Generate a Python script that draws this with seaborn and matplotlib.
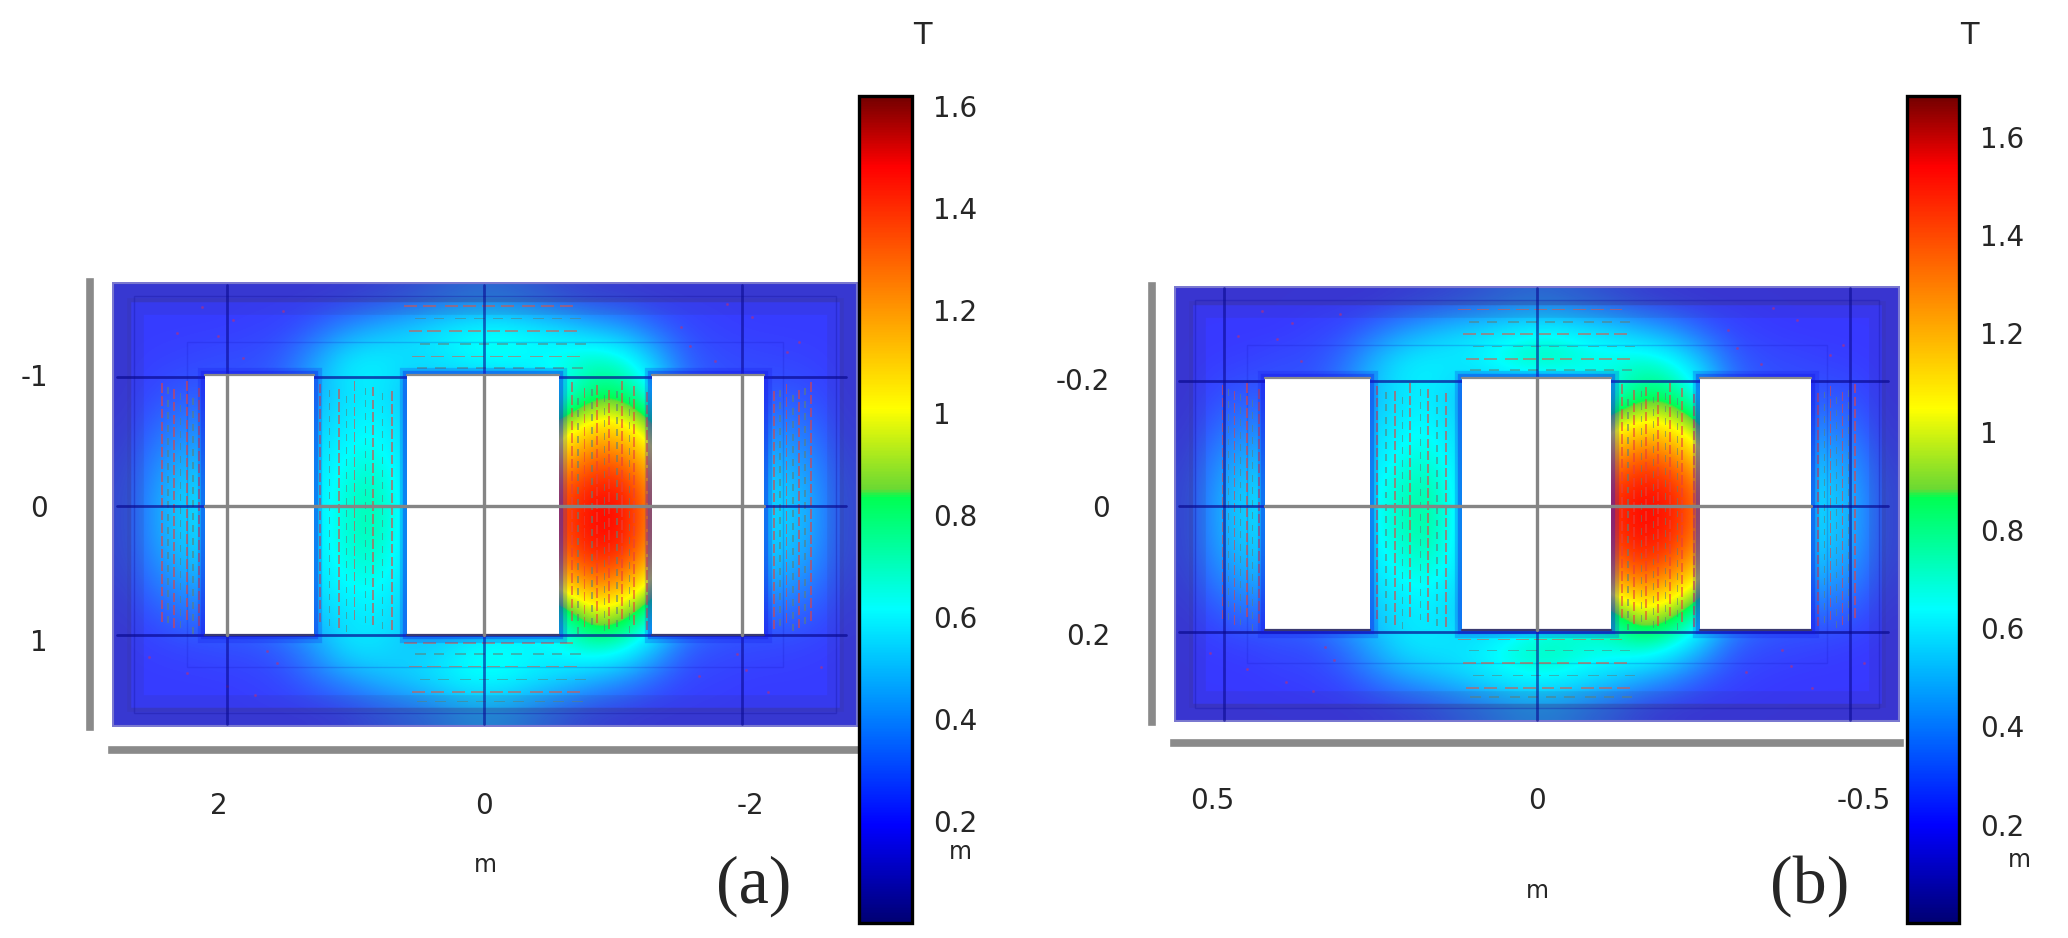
import numpy as np
import seaborn as sns
import matplotlib
matplotlib.use("Agg")
import matplotlib.pyplot as plt
from matplotlib.colors import LinearSegmentedColormap
from matplotlib.patches import Rectangle
from matplotlib.transforms import ScaledTranslation

W, H = 2068, 938

# ---- field values (T), 14 rows x 24 columns ----
field_a = [
 [.20,.20,.20,.20,.20,.20,.20,.21,.23,.26,.30,.34,.34,.30,.25,.22,.21,.20,.20,.20,.20,.20,.20,.20],
 [.20,.20,.20,.20,.21,.22,.28,.38,.46,.52,.58,.62,.64,.60,.56,.48,.42,.30,.23,.21,.20,.20,.20,.20],
 [.20,.21,.22,.24,.24,.28,.42,.58,.60,.55,.56,.62,.64,.62,.65,.72,.68,.50,.28,.24,.23,.22,.21,.20],
 [.20,.24,.27,.25,.25,.30,.44,.55,.58,.48,.45,.40,.40,.50,.60,.78,.78,.58,.32,.25,.24,.26,.24,.20],
 [.21,.30,.36,.36,.38,.46,.50,.58,.62,.52,.50,.50,.60,.80,.90,1.08,1.05,.85,.55,.36,.34,.36,.30,.21],
 [.23,.37,.44,.44,.46,.50,.54,.62,.66,.54,.50,.60,.80,1.02,1.12,1.30,1.26,1.05,.80,.48,.44,.44,.37,.23],
 [.25,.42,.52,.52,.52,.54,.56,.66,.72,.56,.50,.70,1.00,1.22,1.32,1.45,1.43,1.18,.90,.55,.50,.52,.42,.25],
 [.25,.44,.53,.53,.53,.54,.56,.67,.74,.56,.50,.70,1.00,1.25,1.35,1.48,1.46,1.20,.90,.55,.50,.53,.44,.25],
 [.25,.41,.50,.50,.52,.54,.56,.66,.70,.56,.50,.70,1.00,1.20,1.30,1.45,1.41,1.15,.85,.55,.50,.50,.41,.25],
 [.23,.34,.42,.42,.46,.50,.54,.62,.64,.54,.50,.60,.80,1.00,1.08,1.26,1.18,.95,.70,.46,.42,.42,.34,.23],
 [.21,.26,.32,.30,.32,.40,.48,.56,.58,.50,.45,.45,.50,.60,.70,.95,.88,.65,.42,.30,.28,.30,.26,.21],
 [.20,.21,.22,.24,.24,.28,.40,.56,.56,.50,.52,.62,.64,.60,.62,.70,.66,.48,.27,.24,.23,.22,.21,.20],
 [.20,.20,.20,.20,.21,.23,.30,.38,.46,.52,.58,.63,.63,.58,.53,.45,.38,.28,.22,.21,.20,.20,.20,.20],
 [.20,.20,.20,.20,.20,.20,.20,.22,.26,.30,.35,.42,.42,.35,.28,.23,.21,.20,.20,.20,.20,.20,.20,.20],
]
field_b = [
 [.20,.20,.20,.20,.20,.20,.20,.22,.24,.27,.31,.35,.35,.31,.27,.23,.21,.20,.20,.20,.20,.20,.20,.20],
 [.20,.20,.20,.20,.22,.24,.32,.42,.50,.56,.60,.64,.66,.62,.58,.50,.42,.30,.23,.21,.20,.20,.20,.20],
 [.20,.21,.22,.25,.25,.32,.48,.60,.62,.60,.66,.74,.76,.70,.68,.74,.68,.52,.30,.25,.24,.22,.21,.20],
 [.20,.25,.28,.26,.26,.34,.48,.58,.60,.50,.48,.42,.42,.55,.66,.82,.80,.60,.34,.26,.25,.27,.25,.20],
 [.21,.31,.37,.37,.40,.48,.53,.62,.64,.54,.52,.52,.65,.85,1.00,1.12,1.06,.88,.58,.37,.35,.37,.31,.21],
 [.23,.39,.46,.46,.48,.52,.57,.66,.70,.56,.52,.62,.88,1.15,1.25,1.38,1.30,1.10,.82,.50,.46,.46,.39,.23],
 [.25,.44,.54,.54,.54,.56,.60,.72,.76,.58,.52,.72,1.05,1.32,1.42,1.52,1.47,1.28,.95,.57,.52,.54,.44,.25],
 [.25,.46,.55,.55,.55,.56,.60,.74,.78,.58,.52,.72,1.05,1.35,1.45,1.54,1.49,1.30,.95,.57,.52,.55,.46,.25],
 [.25,.43,.52,.52,.54,.56,.59,.70,.74,.58,.52,.72,1.05,1.30,1.38,1.50,1.42,1.22,.90,.57,.52,.52,.43,.25],
 [.23,.36,.44,.44,.48,.52,.56,.64,.66,.56,.52,.62,.88,1.12,1.20,1.32,1.22,1.02,.75,.48,.44,.44,.36,.23],
 [.21,.27,.33,.31,.34,.44,.50,.58,.60,.52,.47,.47,.55,.70,.80,1.02,.92,.70,.44,.31,.29,.32,.27,.21],
 [.20,.21,.22,.25,.25,.32,.46,.58,.60,.58,.64,.72,.76,.70,.70,.76,.68,.50,.29,.25,.24,.22,.21,.20],
 [.20,.20,.20,.21,.22,.25,.34,.44,.50,.56,.62,.66,.66,.62,.56,.48,.40,.29,.23,.21,.20,.20,.20,.20],
 [.20,.20,.20,.20,.20,.20,.21,.23,.26,.31,.36,.42,.42,.36,.30,.24,.21,.20,.20,.20,.20,.20,.20,.20],
]

# plate extent (m): left, right, top, bottom
extent_a = [2.89, -2.90, -1.74, 1.71]
extent_b = [0.58, -0.58, -0.351, 0.344]
# window rectangles (m)
win_x_a = [(2.17, 1.32), (0.60, -0.58), (-1.30, -2.17)]
win_y_a = (-1.02, 1.00)
win_x_b = [(0.4345, 0.267), (0.12, -0.118), (-0.26, -0.438)]
win_y_b = (-0.204, 0.198)
# ticks
xticks_a = [2, 0, -2];         xlabels_a = ["2", "0", "-2"]
yticks_a = [-1, 0, 1];         ylabels_a = ["-1", "0", "1"]
xticks_b = [0.5, 0, -0.5];     xlabels_b = ["0.5", "0", "-0.5"]
yticks_b = [-0.2, 0, 0.2];     ylabels_b = ["-0.2", "0", "0.2"]
cb_ticks = [0.2, 0.4, 0.6, 0.8, 1.0, 1.2, 1.4, 1.6]
cb_labels = ["0.2", "0.4", "0.6", "0.8", "1", "1.2", "1.4", "1.6"]
vmax_a, vmax_b = 1.62, 1.683
vmin_all = 0.0

# colour scale stops (bar) and the paler tint of the low end on the plate
cm_pos = [0, .118, .38, .515, .525, .622, .915, 1]
cm_col = [(0, 0, .45), (0, 0, 1), (0, 1, 1), (0, 1, .32), (.42, .85, .2),
          (1, 1, 0), (1, 0, 0), (.45, 0, 0)]
plate_col = [(.15, .15, .6), (.22, .22, 1), (0, 1, 1), (0, 1, .32), (.42, .85, .2),
             (1, 1, 0), (1, 0, 0), (.45, 0, 0)]

# flux-arrow stroke positions (cell units, shared topology of the two panels)
rows_v = [3.1, 3.5, 3.9, 4.3, 4.7, 5.1, 5.5, 5.9, 6.3, 6.7, 7.1, 7.5, 7.9, 8.3, 8.7, 9.1, 9.5, 9.9, 10.3]
cols_red = [6.7, 7.3, 7.8, 8.4, 9.0, 14.8, 15.2, 15.6, 16.0, 16.4, 16.8, 17.2, 1.6, 2.0, 2.4, 2.8, 21.3, 21.7, 22.1, 22.5]
col_shift = [.1, .28, .02, .2, .34, .06, .25, .14, .31, .0, .18, .36, .09, .27, .03, .22, .33, .12, .29, .05]
cols_grey = [7.0, 7.55, 8.15, 8.7, 15.0, 15.45, 15.85, 16.25, 16.65, 1.8, 2.2, 2.6, 21.5, 21.9, 22.3]
rows_top = [0.75, 1.15, 1.55, 1.95, 2.35, 2.7]
rows_bot = [11.35, 11.7, 12.1, 12.5, 12.9, 13.2]
cols_yoke = [9.4, 10.0, 10.7, 11.3, 11.9, 12.5, 13.2, 13.8, 14.4]
row_shift = [.0, .35, .15, .5, .25, .4]
dots_x = [3.4, 4.2, 5.5, 2.4, 1.2, 18.3, 19.4, 20.6, 21.7, 22.8, 3.7, 5.0, 18.9, 20.1, 21.1, 2.9, 19.8, 4.6, 3.9, 5.3, 18.6, 20.4, 2.1, 22.1]
dots_y = [1.7, 2.4, 0.9, 12.3, 11.8, 1.4, 2.5, 1.1, 2.2, 12.1, 12.7, 11.6, 12.4, 11.7, 12.9, 0.8, 0.7, 13.0, 1.2, 12.0, 2.0, 12.2, 1.6, 1.9]

sns.set_style("white")
plt.rcParams["font.family"] = ["DejaVu Sans"]
cmap = LinearSegmentedColormap.from_list("rainbow_kink", list(zip(cm_pos, cm_col)), N=512)
plate_cmap = LinearSegmentedColormap.from_list("plate", list(zip(cm_pos, plate_col)), N=512)


def box(x0, y0, x1, y1):
    return [x0 / W, 1 - y1 / H, (x1 - x0) / W, (y1 - y0) / H]


fig = plt.figure(figsize=(W / 100, H / 100), dpi=100, facecolor="white")


def panel(field, ext, win_x, win_y, xt, xl, yt, yl, vmax, rect, crect,
          xoff, yoff, spine_out, xpad, xlabpad, grid_span):
    ax = fig.add_axes(box(*rect))
    cax = fig.add_axes(box(*crect))
    arr = np.array(field, dtype=float)
    nr, nc = arr.shape
    sns.heatmap(arr, ax=ax, cbar_ax=cax, cmap=cmap, vmin=vmin_all, vmax=vmax,
                xticklabels=False, yticklabels=False)
    ax.imshow(arr, cmap=plate_cmap, vmin=vmin_all, vmax=vmax, extent=(0, nc, nr, 0),
              aspect="auto", interpolation="bicubic", zorder=1)
    ax.set_xlim(0, nc)
    ax.set_ylim(nr, 0)
    xL, xR, yT, yB = ext
    cx = lambda v: (xL - v) / (xL - xR) * nc
    cy = lambda v: (v - yT) / (yB - yT) * nr

    # translucent frame bands
    for inset_x, inset_y, lw, col, a in [(.30, .30, 14, "#3c3070", .32), (.75, .75, 12, "#3c3070", .12)]:
        ax.add_patch(Rectangle((inset_x, inset_y), nc - 2 * inset_x, nr - 2 * inset_y, fill=False,
                               lw=lw, ec=col, alpha=a, zorder=2, joinstyle="miter"))
    ax.add_patch(Rectangle((0.7, 0.45), nc - 1.4, nr - .9, fill=False, lw=1.0, ec="#1515a0", alpha=.35, zorder=2))
    ax.add_patch(Rectangle((2.4, 1.9), nc - 4.8, nr - 3.8, fill=False, lw=1.0, ec="#1515c0", alpha=.2, zorder=2))
    ax.add_patch(Rectangle((0.02, 0.02), nc - .04, nr - .04, fill=False, lw=1.5, ec="#7a78d0", zorder=2))

    # strokes of the flux arrows
    kw = dict(angles="xy", scale_units="xy", scale=1, headwidth=1, headlength=0,
              headaxislength=0, units="dots", zorder=3)
    XR, YR = np.meshgrid(cols_red, rows_v)
    YR = YR + np.array(col_shift)[None, :]
    XG, YG = np.meshgrid(cols_grey, np.array(rows_v) + .2)
    YG = YG + np.array(col_shift[:len(cols_grey)])[None, :]
    ax.quiver(XR, YR, np.zeros_like(XR), np.full_like(XR, .30), color="#e8403c", alpha=.6, width=1.8, **kw)
    ax.quiver(XG, YG, np.zeros_like(XG), np.full_like(XG, .22), color="#5f8078", alpha=.6, width=1.6, **kw)
    for rows in (rows_top, rows_bot):
        XH, YH = np.meshgrid(cols_yoke, rows)
        XH = XH + np.array(row_shift)[:, None]
        ax.quiver(XH[::2], YH[::2], np.full_like(XH[::2], .42), np.zeros_like(XH[::2]),
                  color="#e8503c", alpha=.55, width=1.6, **kw)
        ax.quiver(XH[1::2], YH[1::2], np.full_like(XH[1::2], .34), np.zeros_like(XH[1::2]),
                  color="#5f8078", alpha=.55, width=1.5, **kw)
    ax.scatter(dots_x, dots_y, s=4, color="#c03070", alpha=.6, lw=0, zorder=3)

    # grid over the plate
    for v in xt:
        ax.plot([cx(v)] * 2, [.08, nr - .08], color="#0a0a90", lw=2.0, alpha=.6, zorder=4)
    for v in yt:
        ax.plot([grid_span[0], grid_span[1]], [cy(v)] * 2, color="#0a0a90", lw=2.0, alpha=.7, zorder=4)

    # soft blue rim round each window, then the window as a hole in the plate
    for a0, a1 in win_x:
        for lw, al in [(11, .22), (6, .35)]:
            ax.add_patch(Rectangle((cx(a0), cy(win_y[0])), cx(a1) - cx(a0), cy(win_y[1]) - cy(win_y[0]),
                                   fc="none", ec="#1414e6", alpha=al, lw=lw, zorder=4.5))
    for a0, a1 in win_x:
        ax.add_patch(Rectangle((cx(a0), cy(win_y[0])), cx(a1) - cx(a0), cy(win_y[1]) - cy(win_y[0]),
                               fc="white", ec="none", zorder=5))
        ax.plot([cx(a0), cx(a1)], [cy(win_y[0])] * 2, color="#8a8a8a", lw=1.6, zorder=6)
        ax.plot([cx(a0), cx(a1)], [cy(win_y[1])] * 2, color="#3a3a70", lw=1.6, zorder=6)
        for v in xt:
            if min(a0, a1) < v < max(a0, a1):
                ax.plot([cx(v)] * 2, [cy(win_y[0]), cy(win_y[1])], color="#858585", lw=2.4, zorder=6)
    ax.plot([cx(win_x[0][0]), cx(win_x[-1][1])], [cy(0)] * 2, color="#858585", lw=2.4, zorder=6)

    # axes: thick grey offset bars
    for s in ["top", "right"]:
        ax.spines[s].set_visible(False)
    for s in ["left", "bottom"]:
        ax.spines[s].set_visible(True)
        ax.spines[s].set_color("#8a8a8a")
        ax.spines[s].set_linewidth(5.5)
        ax.spines[s].set_position(("outward", spine_out[s]))
    ax.set_xticks([cx(v) for v in xt], labels=xl)
    ax.set_yticks([cy(v) for v in yt], labels=yl)
    ax.tick_params(axis="x", length=0, pad=xpad, labelsize=20, bottom=True, labelbottom=True)
    ax.tick_params(axis="y", length=0, pad=30, labelsize=20, left=True, labelleft=True)
    for lab, dx in zip(ax.get_xticklabels(), xoff):
        lab.set_transform(lab.get_transform() + ScaledTranslation(dx / 100, 0, fig.dpi_scale_trans))
    for lab, dy in zip(ax.get_yticklabels(), yoff):
        lab.set_transform(lab.get_transform() + ScaledTranslation(0, -dy / 100, fig.dpi_scale_trans))
    ax.set_xlabel("m", fontsize=17, labelpad=xlabpad)

    # colour bar
    cb = ax.collections[0].colorbar
    cb.set_ticks(cb_ticks, labels=cb_labels)
    cb.outline.set_visible(True)
    cb.outline.set_linewidth(2.4)
    cb.outline.set_edgecolor("black")
    cax.tick_params(which="major", direction="in", length=7, width=1.6, color="black",
                    left=True, right=True, labelright=True, labelleft=False,
                    pad=15, labelsize=20)
    cax.minorticks_off()
    return ax, cax


panel(field_a, extent_a, win_x_a, win_y_a, xticks_a, xlabels_a, yticks_a, ylabels_a, vmax_a,
      (112, 282, 858, 727), (859, 96, 912, 923), [-8, 0, 8], [-2, 0, 5],
      {"left": 16, "bottom": 16.5}, 30, 24, (0.15, 23.6))
panel(field_b, extent_b, win_x_b, win_y_b, xticks_b, xlabels_b, yticks_b, ylabels_b, vmax_b,
      (1174, 286, 1900, 722), (1907, 96, 1959, 923), [-12, 0, 14], [-2, 0, 2],
      {"left": 16, "bottom": 15}, 32, 46, (0.15, 23.6))


def px_text(x, y, s, **kw):
    fig.text(x / W, 1 - y / H, s, ha="center", va="center", **kw)


px_text(922, 35, "T", fontsize=22)
px_text(1969, 35, "T", fontsize=22)
px_text(960, 852, "m", fontsize=17)
px_text(2019, 860, "m", fontsize=17)
px_text(754, 886, "(a)", fontsize=49, family="Liberation Serif")
px_text(1810, 886, "(b)", fontsize=49, family="Liberation Serif")

fig.savefig("out.png", dpi=100, facecolor="white")
